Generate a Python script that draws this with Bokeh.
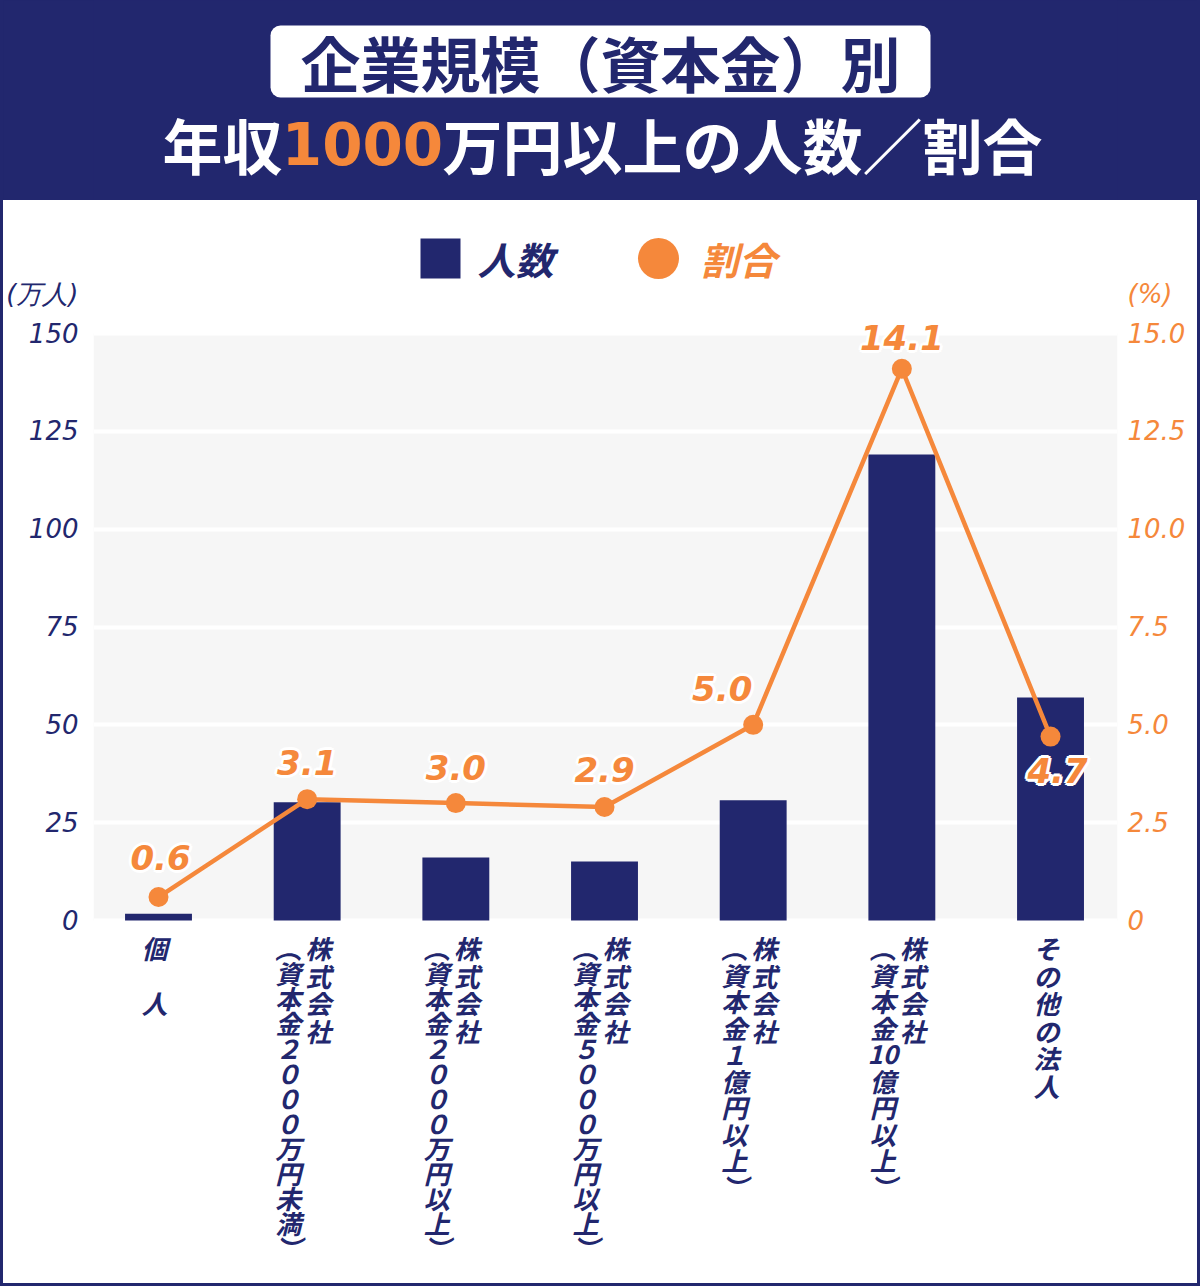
from bokeh.plotting import figure
from bokeh.models import (Range1d, LinearAxis, FixedTicker, BoxAnnotation,
                          ColumnDataSource, NumeralTickFormatter)
from bokeh.layouts import column
from bokeh.core.properties import value
from bokeh.embed import file_html
from bokeh.resources import INLINE

# ---------------- data ----------------
categories = [
    "個　人",
    "株式会社\n（資本金２０００万円未満）",
    "株式会社\n（資本金２０００万円以上）",
    "株式会社\n（資本金５０００万円以上）",
    "株式会社\n（資本金１億円以上）",
    "株式会社\n（資本金10億円以上）",
    "その他の法人",
]
counts = [1.7, 30.2, 16.1, 15.1, 30.7, 119.1, 57.0]      # 万人
ratios = [0.6, 3.1, 3.0, 2.9, 5.0, 14.1, 4.7]            # %
left_ticks = [0, 25, 50, 75, 100, 125, 150]
right_ticks = [0, 2.5, 5.0, 7.5, 10.0, 12.5, 15.0]
legend_labels = ["人数", "割合"]
title_line1 = "企業規模（資本金）別"
title_line2 = ["年収", "1000", "万円以上の人数／割合"]
left_unit = "(万人)"
right_unit = "(%)"

# ---------------- style ----------------
NAVY = "#22276e"
ORANGE = "#f5883b"
GRAY = "#f6f6f6"
JP = "Noto Sans CJK JP"
NUM = "DejaVu Sans"
value_label_offsets = [(2, -40), (0, -37), (0, -36), (0, -38), (-31, -36), (0, -31), (7, 34)]
UNIT_LEFT_POS = 160      # unit captions sit one "row" above the top tick
UNIT_RIGHT_POS = 16.0

# page-pixel layout helpers
PX_X0, PX_DX = 158.0, 148.67          # first category centre, category pitch
FRAME_L, FRAME_R = 93, 1117
PX_ZERO, PX_TOP = 920, 333            # y of 0 and 150
PANEL_TOP, PANEL_BOTTOM = 200, 1283
PPU = (PX_ZERO - PX_TOP) / 150.0


def px2x(px):
    return (px - PX_X0) / PX_DX


def px2y(py):
    return (PX_ZERO - py) / PPU


# ---------------- header ----------------
# (the column layout aligns this figure's frame with the chart's frame)
hdr = figure(width=1194, height=200, x_range=Range1d(FRAME_L, FRAME_R), y_range=Range1d(0, 200),
             x_axis_location=None, y_axis_location=None, toolbar_location=None,
             output_backend="svg", min_border_left=FRAME_L - 3, min_border_right=1197 - FRAME_R,
             min_border_top=0, min_border_bottom=0, background_fill_color=NAVY,
             border_fill_color=NAVY, outline_line_color=None)
hdr.grid.visible = False
hdr.add_layout(BoxAnnotation(left=270, right=930, top=200 - 25, bottom=200 - 97,
                             fill_color="white", fill_alpha=1, line_color=None,
                             border_radius=10, level="underlay"))
hdr.text(x=[600], y=[200 - 61], text=[title_line1], text_font=value(JP),
         text_font_style="bold", text_font_size="60px", text_color=NAVY,
         text_align="center", text_baseline="middle")
line2_centres = [222, 362, 742]
line2_colors = ["white", ORANGE, "white"]
line2_fonts = [JP, NUM, JP]
line2_sizes = ["60px", "58px", "60px"]
for t, cx, c, fnt, fs in zip(title_line2, line2_centres, line2_colors, line2_fonts, line2_sizes):
    hdr.text(x=[cx], y=[200 - 143], text=[t], text_font=value(fnt),
             text_font_style="bold", text_font_size=fs, text_color=c,
             text_align="center", text_baseline="middle")

# ---------------- chart ----------------
p = figure(width=1194, height=PANEL_BOTTOM - PANEL_TOP,
           x_range=Range1d(px2x(FRAME_L), px2x(FRAME_R)),
           y_range=Range1d(px2y(PANEL_BOTTOM), px2y(PANEL_TOP)),
           x_axis_location=None, toolbar_location=None, output_backend="svg",
           min_border_left=FRAME_L - 3, min_border_right=1197 - FRAME_R,
           min_border_top=0, min_border_bottom=0,
           background_fill_color="white", border_fill_color="white",
           outline_line_color=None)
p.styles = {"background-color": "white"}
p.extra_y_ranges = {"pct": Range1d(px2y(PANEL_BOTTOM) / 10, px2y(PANEL_TOP) / 10)}

# plot-area background and grid
p.add_layout(BoxAnnotation(bottom=0, top=150, fill_color=GRAY, fill_alpha=1,
                           line_color=None, level="image"))
p.xgrid.grid_line_color = None
p.ygrid.ticker = FixedTicker(ticks=left_ticks)
p.ygrid.grid_line_color = "white"
p.ygrid.grid_line_width = 4

# left axis (unit caption shown as an extra labelled tick above 150)
ya = p.yaxis[0]
ya.ticker = FixedTicker(ticks=left_ticks + [UNIT_LEFT_POS])
ya.major_label_overrides = {UNIT_LEFT_POS: left_unit}
ya.axis_line_color = None
ya.major_tick_line_color = None
ya.minor_tick_line_color = None
ya.major_tick_out = 0
ya.major_label_standoff = 15
ya.major_label_text_color = NAVY
ya.major_label_text_font = NUM
ya.major_label_text_font_style = "italic"
ya.major_label_text_font_size = "26px"

# right axis
ra = LinearAxis(y_range_name="pct", ticker=FixedTicker(ticks=right_ticks + [UNIT_RIGHT_POS]),
                formatter=NumeralTickFormatter(format="0.0"))
ra.major_label_overrides = {0: "0", UNIT_RIGHT_POS: right_unit}
ra.axis_line_color = None
ra.major_tick_line_color = None
ra.minor_tick_line_color = None
ra.major_tick_out = 0
ra.major_label_standoff = 10
ra.major_label_text_color = ORANGE
ra.major_label_text_font = NUM
ra.major_label_text_font_style = "italic"
ra.major_label_text_font_size = "26px"
p.add_layout(ra, "right")

idx = list(range(len(categories)))
src = ColumnDataSource(dict(x=idx, count=counts, ratio=ratios,
                            lbl=[f"{r:.1f}" for r in ratios],
                            xo=[o[0] for o in value_label_offsets],
                            yo=[o[1] for o in value_label_offsets]))

p.vbar(x="x", top="count", width=0.45, source=src, fill_color=NAVY, line_color=None)
p.line(x="x", y="ratio", source=src, y_range_name="pct", line_color=ORANGE, line_width=4.5)
p.scatter(x="x", y="ratio", source=src, y_range_name="pct", size=20,
          fill_color=ORANGE, line_color=None)

# value labels with white halo
halo = [(3, 0), (-3, 0), (0, 3), (0, -3), (2, 2), (-2, 2), (2, -2), (-2, -2)]
for dx, dy in halo:
    hs = ColumnDataSource(dict(x=idx, y=ratios, lbl=src.data["lbl"],
                               xo=[o[0] + dx for o in value_label_offsets],
                               yo=[o[1] + dy for o in value_label_offsets]))
    p.text(x="x", y="y", text="lbl", x_offset="xo", y_offset="yo", source=hs,
           y_range_name="pct", text_font=value(NUM), text_font_style="bold italic",
           text_font_size="34px", text_color="white", text_align="center",
           text_baseline="middle")
p.text(x="x", y="ratio", text="lbl", x_offset="xo", y_offset="yo", source=src,
       y_range_name="pct", text_font=value(NUM), text_font_style="bold italic",
       text_font_size="34px", text_color=ORANGE, text_align="center",
       text_baseline="middle")


# vertical category labels
def cells(line):
    out = []
    for ch in line:
        ch = {"（": "︵", "）": "︶"}.get(ch, ch)
        if ch.isascii() and ch.isdigit() and out and out[-1].isascii() and out[-1].isdigit():
            out[-1] += ch
        else:
            out.append(ch)
    return out


lx, ly, lt, lxo, lyo = [], [], [], [], []
for i, cat in enumerate(categories):
    lines = cat.split("\n")
    col_off = [-4] if len(lines) == 1 else [11, -19]
    for line, xo in zip(lines, col_off):
        cs = cells(line)
        pitch = 27.5 if len(cs) <= 8 else (26.5 if len(cs) <= 11 else 25.0)
        for k, c in enumerate(cs):
            lx.append(i)
            ly.append(0)
            lt.append(c)
            lxo.append(xo)
            lyo.append(27 + k * pitch)
p.text(x="x", y="y", text="t", x_offset="xo", y_offset="yo",
       source=ColumnDataSource(dict(x=lx, y=ly, t=lt, xo=lxo, yo=lyo)),
       text_font=value(JP), text_font_style="bold italic", text_font_size="26px",
       text_color=NAVY, text_align="center", text_baseline="middle")

# legend
p.scatter(x=[px2x(440)], y=[px2y(258)], marker="square", size=40,
          fill_color=NAVY, line_color=None)
p.scatter(x=[px2x(658)], y=[px2y(258)], marker="circle", size=41,
          fill_color=ORANGE, line_color=None)
p.text(x=[px2x(515), px2x(738)], y=[px2y(258)] * 2, text=legend_labels,
       text_color=[NAVY, ORANGE], text_font=value(JP), text_font_style="bold italic",
       text_font_size="38px", text_align="center", text_baseline="middle")

layout = column(hdr, p, spacing=0,
                styles={"background-color": NAVY, "padding": "0px 3px 3px 3px"})

with open("out.html", "w") as f:
    f.write(file_html(layout, INLINE))
